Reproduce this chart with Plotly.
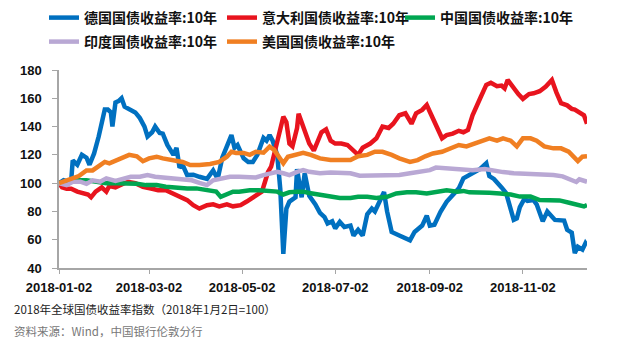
import plotly.graph_objects as go

# ---- data (index, 2018-01-02 = 100) ----
de_dates = ["2018-01-02","2018-01-05","2018-01-08","2018-01-10","2018-01-11","2018-01-14","2018-01-17","2018-01-20","2018-01-22","2018-01-25","2018-01-28","2018-01-30","2018-02-01","2018-02-03","2018-02-05","2018-02-06","2018-02-08","2018-02-10","2018-02-12","2018-02-14","2018-02-17","2018-02-21","2018-02-24","2018-02-27","2018-03-01","2018-03-04","2018-03-06","2018-03-09","2018-03-11","2018-03-14","2018-03-18","2018-03-20","2018-03-22","2018-03-24","2018-03-27","2018-03-31","2018-04-04","2018-04-09","2018-04-13","2018-04-16","2018-04-19","2018-04-22","2018-04-25","2018-04-27","2018-04-29","2018-05-03","2018-05-06","2018-05-09","2018-05-12","2018-05-16","2018-05-18","2018-05-20","2018-05-22","2018-05-25","2018-05-27","2018-05-29","2018-05-31","2018-06-02","2018-06-06","2018-06-07","2018-06-10","2018-06-12","2018-06-15","2018-06-19","2018-06-22","2018-06-25","2018-06-27","2018-06-30","2018-07-02","2018-07-05","2018-07-08","2018-07-12","2018-07-14","2018-07-17","2018-07-20","2018-07-23","2018-07-26","2018-07-28","2018-07-31","2018-08-03","2018-08-05","2018-08-08","2018-08-13","2018-08-18","2018-08-20","2018-08-23","2018-08-28","2018-08-31","2018-09-02","2018-09-05","2018-09-09","2018-09-13","2018-09-17","2018-09-21","2018-09-24","2018-09-27","2018-10-01","2018-10-05","2018-10-09","2018-10-11","2018-10-14","2018-10-17","2018-10-19","2018-10-22","2018-10-25","2018-10-27","2018-10-29","2018-10-31","2018-11-03","2018-11-05","2018-11-09","2018-11-11","2018-11-14","2018-11-15","2018-11-18","2018-11-20","2018-11-23","2018-11-29","2018-12-01","2018-12-04","2018-12-06","2018-12-08","2018-12-11","2018-12-13","2018-12-14"]
de_vals = [100,102,101,102,116,113,120,118,113,121,133,142.5,152,152,150,140,157,158,160,154,152,150,146,140,133,136,140,135.5,135,127,120,125,111,113,105.7,106,104.5,103,109,103,118,127,134,125,127,117.5,115,115,120,132,130,134,130,120,96,50,82,87,90,110,90,107,91,85,79,76,71.5,73,68,72.6,69,70,63,67,63,78,82,80,86.8,93.7,80,65.5,63,61,59.6,65.5,70,77,70,70.6,79.7,86.8,91.5,96.3,103.4,105,108,110,114,105,103,98.6,97,93,81,74,75,83,89,87.5,88,85,76,73,80,77.6,74,73.5,67,65,50.5,55,53,57.5,56]

it_dates = ["2018-01-02","2018-01-04","2018-01-07","2018-01-10","2018-01-14","2018-01-18","2018-01-21","2018-01-23","2018-01-26","2018-01-30","2018-02-02","2018-02-04","2018-02-08","2018-02-11","2018-02-16","2018-02-21","2018-02-26","2018-03-04","2018-03-08","2018-03-13","2018-03-18","2018-03-22","2018-03-27","2018-03-31","2018-04-04","2018-04-09","2018-04-13","2018-04-17","2018-04-22","2018-04-26","2018-05-01","2018-05-05","2018-05-09","2018-05-13","2018-05-15","2018-05-17","2018-05-19","2018-05-21","2018-05-23","2018-05-26","2018-05-29","2018-05-31","2018-06-02","2018-06-04","2018-06-07","2018-06-08","2018-06-11","2018-06-13","2018-06-15","2018-06-18","2018-06-21","2018-06-23","2018-06-26","2018-06-29","2018-07-02","2018-07-06","2018-07-10","2018-07-14","2018-07-17","2018-07-20","2018-07-25","2018-07-29","2018-08-02","2018-08-06","2018-08-09","2018-08-13","2018-08-17","2018-08-21","2018-08-24","2018-08-28","2018-08-31","2018-09-02","2018-09-06","2018-09-10","2018-09-13","2018-09-17","2018-09-21","2018-09-24","2018-09-27","2018-09-30","2018-10-05","2018-10-09","2018-10-12","2018-10-16","2018-10-19","2018-10-21","2018-10-23","2018-10-27","2018-10-30","2018-11-02","2018-11-06","2018-11-09","2018-11-13","2018-11-17","2018-11-21","2018-11-24","2018-11-27","2018-12-01","2018-12-04","2018-12-06","2018-12-09","2018-12-12","2018-12-14"]
it_vals = [100,97,96,96,94,93,92,90,94,97,94,98,97,98.5,101,100,97.4,96,95,95,92.7,90.3,88,84.4,82,84.4,85,83.6,85,83.6,84.4,87,90,92.7,94,101,108,111.6,120,134,147,143,128,126,139,149,140,135,128,123,131.7,136,138,130,128,128,127,123.4,120,125,128,131.7,140,139,142,148,149.4,142,149.4,151.8,155.3,150.5,141,131.7,134,135,137,136,137.6,148,160,169.5,171,168.5,169,167,173,167,163,159.6,163,163.5,165,168.3,173,164,156.5,155,152.5,152,150,148,142]

cn_dates = ["2018-01-02","2018-01-07","2018-01-13","2018-01-20","2018-01-27","2018-02-02","2018-02-09","2018-02-15","2018-02-22","2018-02-28","2018-03-07","2018-03-13","2018-03-20","2018-03-27","2018-04-02","2018-04-09","2018-04-15","2018-04-18","2018-04-22","2018-04-26","2018-04-30","2018-05-07","2018-05-13","2018-05-20","2018-05-25","2018-05-29","2018-06-02","2018-06-07","2018-06-11","2018-06-15","2018-06-22","2018-06-29","2018-07-05","2018-07-12","2018-07-17","2018-07-23","2018-07-29","2018-08-05","2018-08-11","2018-08-18","2018-08-24","2018-08-31","2018-09-06","2018-09-13","2018-09-20","2018-09-24","2018-09-28","2018-10-05","2018-10-11","2018-10-18","2018-10-25","2018-10-31","2018-11-07","2018-11-13","2018-11-20","2018-11-26","2018-12-03","2018-12-08","2018-12-12","2018-12-14"]
cn_vals = [100,101,102,102,101,100,100,100,99.5,98.6,98.6,97.4,96.7,96.3,96.3,95,94,90.3,92,94,94,95,95,94.5,94,92,93.5,94,94,93,92,91,89.5,89.5,90.3,90.3,89.5,90.3,92.7,93.5,93.5,92.7,93.5,95,94,94.5,93.5,93.5,93.2,92.7,92,90.5,90.5,88,87.5,87.8,86,84.4,83.5,84.5]

in_dates = ["2018-01-02","2018-01-07","2018-01-11","2018-01-16","2018-01-20","2018-01-24","2018-01-29","2018-02-02","2018-02-08","2018-02-13","2018-02-18","2018-02-24","2018-03-01","2018-03-06","2018-03-11","2018-03-16","2018-03-20","2018-03-24","2018-03-30","2018-04-04","2018-04-09","2018-04-13","2018-04-18","2018-04-24","2018-04-30","2018-05-07","2018-05-11","2018-05-16","2018-05-20","2018-05-25","2018-05-29","2018-06-02","2018-06-07","2018-06-11","2018-06-15","2018-06-22","2018-06-29","2018-07-05","2018-07-12","2018-07-18","2018-07-25","2018-07-31","2018-08-07","2018-08-13","2018-08-20","2018-08-26","2018-09-02","2018-09-06","2018-09-11","2018-09-17","2018-09-24","2018-09-30","2018-10-08","2018-10-14","2018-10-20","2018-10-27","2018-11-02","2018-11-09","2018-11-15","2018-11-22","2018-11-28","2018-12-03","2018-12-07","2018-12-09","2018-12-12","2018-12-14"]
in_vals = [100,98.6,101,101,99.5,102,101,103.4,101.5,103.4,104.5,104.5,105.7,104.5,104,103.4,103,102,102,100.2,98.6,102,103.4,104.5,104.5,104.5,104,105.7,107,108,107,105.7,108,109.2,108,107,107.5,107,107,105.2,105.2,105.2,105.5,105.8,107,108,109.2,111,110.5,110.5,109.2,109.2,110,108.5,107.8,107,106.8,106.8,106.5,105.8,104.8,103,100.8,102.7,102,101]

us_dates = ["2018-01-02","2018-01-07","2018-01-12","2018-01-15","2018-01-20","2018-01-24","2018-01-29","2018-02-01","2018-02-04","2018-02-09","2018-02-13","2018-02-17","2018-02-22","2018-02-26","2018-03-02","2018-03-07","2018-03-11","2018-03-16","2018-03-20","2018-03-24","2018-03-29","2018-04-04","2018-04-11","2018-04-17","2018-04-22","2018-04-25","2018-04-28","2018-05-03","2018-05-07","2018-05-11","2018-05-16","2018-05-20","2018-05-23","2018-05-27","2018-05-29","2018-06-01","2018-06-06","2018-06-11","2018-06-16","2018-06-22","2018-06-29","2018-07-05","2018-07-12","2018-07-17","2018-07-23","2018-07-28","2018-08-02","2018-08-08","2018-08-13","2018-08-20","2018-08-25","2018-08-30","2018-09-04","2018-09-10","2018-09-15","2018-09-21","2018-09-26","2018-10-02","2018-10-07","2018-10-11","2018-10-16","2018-10-20","2018-10-25","2018-10-29","2018-11-02","2018-11-07","2018-11-11","2018-11-16","2018-11-22","2018-11-27","2018-12-02","2018-12-05","2018-12-08","2018-12-11","2018-12-14"]
us_vals = [100,102,104.5,105,109,109,112.8,115,114,116.3,118.7,120,119,115.5,117.5,118.7,117.5,116.3,116,115,112.8,112.8,113.6,115,118.7,122.2,121.4,121.4,120,122.2,121.5,125.8,123.5,117.5,114,118.7,120,121.4,120,117.5,116.3,116.5,116.3,119,120,122.2,122.2,120,117.5,115,116.3,119,121,122.2,124.6,127,126,128,130.5,131.7,130,131.7,130,126,131.7,131.7,130,126,124.6,124.6,122.2,118.7,115.6,118.7,119]

names = ["德国国债收益率:10年", "意大利国债收益率:10年", "中国国债收益率:10年",
         "印度国债收益率:10年", "美国国债收益率:10年"]
colors = ["#0070C0", "#E8141E", "#00A651", "#B9A8D4", "#F07F22"]

tick_vals = ["2018-01-02", "2018-03-02", "2018-05-02", "2018-07-02", "2018-09-02", "2018-11-02"]
y_ticks = [40, 60, 80, 100, 120, 140, 160, 180]

series = [(de_dates, de_vals), (it_dates, it_vals), (cn_dates, cn_vals),
          (in_dates, in_vals), (us_dates, us_vals)]
legend_ids = ["legend", "legend2", "legend3", "legend4", "legend5"]

fig = go.Figure()
for (d, v), name, col, lg in zip(series, names, colors, legend_ids):
    fig.add_trace(go.Scatter(x=d, y=v, mode="lines", name=name, legend=lg,
                             line=dict(color=col, width=4.5)))

W, H = 632, 355
leg_font = dict(family="Noto Sans CJK SC", size=14, color="#111", weight="bold")
leg_pos = [(44, 18), (222, 18), (400, 18), (44, 42), (222, 42)]
legends = {}
for lg, (px, py) in zip(legend_ids, leg_pos):
    legends[lg] = dict(xref="container", yref="container", x=px / W, y=1 - py / H,
                       xanchor="left", yanchor="middle", orientation="h",
                       font=leg_font, bgcolor="rgba(0,0,0,0)", itemwidth=30)

axis_font = dict(family="Liberation Sans", size=13, color="#111", weight="bold")
fig.update_layout(
    width=W, height=H,
    margin=dict(l=59, r=45, t=70, b=87, autoexpand=False),
    plot_bgcolor="white", paper_bgcolor="white",
    showlegend=True,
    xaxis=dict(type="date", range=["2018-01-02", "2018-12-14"],
               tickvals=tick_vals, ticktext=tick_vals,
               showgrid=False, zeroline=False, showline=True,
               linecolor="#A6A6A6", linewidth=1.5,
               ticks="outside", ticklen=4, tickcolor="#A6A6A6", tickwidth=1.2,
               tickfont=axis_font, ticklabelstandoff=3),
    yaxis=dict(range=[40, 180], tickvals=y_ticks,
               showgrid=False, zeroline=False, showline=True,
               linecolor="#A6A6A6", linewidth=1.5,
               ticks="outside", ticklen=5, tickcolor="#A6A6A6", tickwidth=1.2,
               tickfont=axis_font, ticklabelstandoff=8),
    annotations=[
        dict(text="2018年全球国债收益率指数（2018年1月2日=100）", xref="paper", yref="paper",
             x=(12 - 59) / 528, y=(268 - 309) / 198, xanchor="left", yanchor="middle",
             showarrow=False, font=dict(family="Noto Sans CJK SC", size=11.5, color="#222")),
        dict(text="资料来源：Wind，中国银行伦敦分行", xref="paper", yref="paper",
             x=(12 - 59) / 528, y=(268 - 331) / 198, xanchor="left", yanchor="middle",
             showarrow=False, font=dict(family="Noto Sans CJK SC", size=11.5, color="#777")),
    ],
    **legends,
)

fig.write_html("out.html", config={"displayModeBar": False},
               post_script="document.body.style.margin='0';")
